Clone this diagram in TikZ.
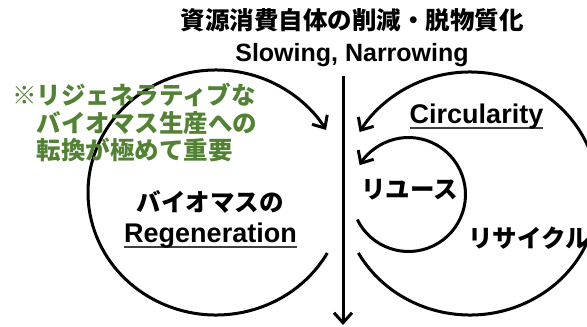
\documentclass[tikz,border=0pt]{standalone}
\usepackage{fontspec}
\setmainfont{Liberation Sans}
\newfontfamily\jpfont{Noto Sans CJK JP}
\usetikzlibrary{arrows.meta,positioning}
\definecolor{CycInk}{HTML}{000000}
\definecolor{CycGreen}{HTML}{548235}
\definecolor{CycRule}{HTML}{404040}
\newcommand\ulword[1]{\setbox0=\hbox{#1}\rlap{\textcolor{CycRule}{\rule[-6pt]{\wd0}{2pt}}}\box0}

\begin{document}
\begin{tikzpicture}[x=1pt,y=1pt]
  \tikzset{
    loop/.style={draw=CycInk,line width=3pt,
      -{Straight Barb[length=10pt,width=18pt,line width=3pt]}},
    jptext/.style={font=\jpfont\bfseries\fontsize{24.5}{27.5}\selectfont,inner sep=0pt},
    entext/.style={font=\bfseries\fontsize{27}{31}\selectfont,inner sep=0pt},
    subtext/.style={font=\bfseries\fontsize{25}{29}\selectfont,inner sep=0pt}
  }
  \useasboundingbox (0,0) rectangle (587,-327);
  % centres of the loops and the ends of the flow
  \coordinate (regen) at (216,-192.5);
  \coordinate (circ) at (470,-193.5);
  \coordinate (reuse) at (408.5,-194.5);
  \coordinate (flowtop) at (343,-76);
  \coordinate (flowbot) at (343,-325);
  % loops
  \draw[loop] ([shift={(-29.6:128 and 122.5)}]regen)
    arc[start angle=-29.6,end angle=-329.3,x radius=128,y radius=122.5];
  \draw[loop] ([shift={(209.3:128 and 121.5)}]circ)
    arc[start angle=209.3,end angle=509.6,x radius=128,y radius=121.5];
  \draw[loop] ([shift={(206:57)}]reuse)
    arc[start angle=206,end angle=509,radius=57];
  \draw[loop] (flowtop) -- (flowbot);
  % labels
  \node[jptext] (title) at (352,-20) {資源消費自体の削減・脱物質化};
  \node[subtext,anchor=base] (slow) at (352,-61.5) {Slowing, Narrowing};
  \node[jptext,text=CycGreen,align=left,anchor=north west] (note) at (12,-83)
    {※リジェネラティブな\\\hspace*{1em}バイオマス生産への\\\hspace*{1em}転換が極めて重要};
  \node[jptext] (biojp) at (210,-202) {バイオマスの};
  \node[entext,anchor=base] (bioen) at (210.5,-242) {\ulword{Regeneration}};
  \node[entext,anchor=base] (circlabel) at (476.5,-123) {\ulword{Circularity}};
  \node[jptext] (reuselabel) at (409.5,-190) {リユース};
  \node[jptext,anchor=west] (recycle) at (468,-238) {リサイクル};
\end{tikzpicture}
\end{document}
